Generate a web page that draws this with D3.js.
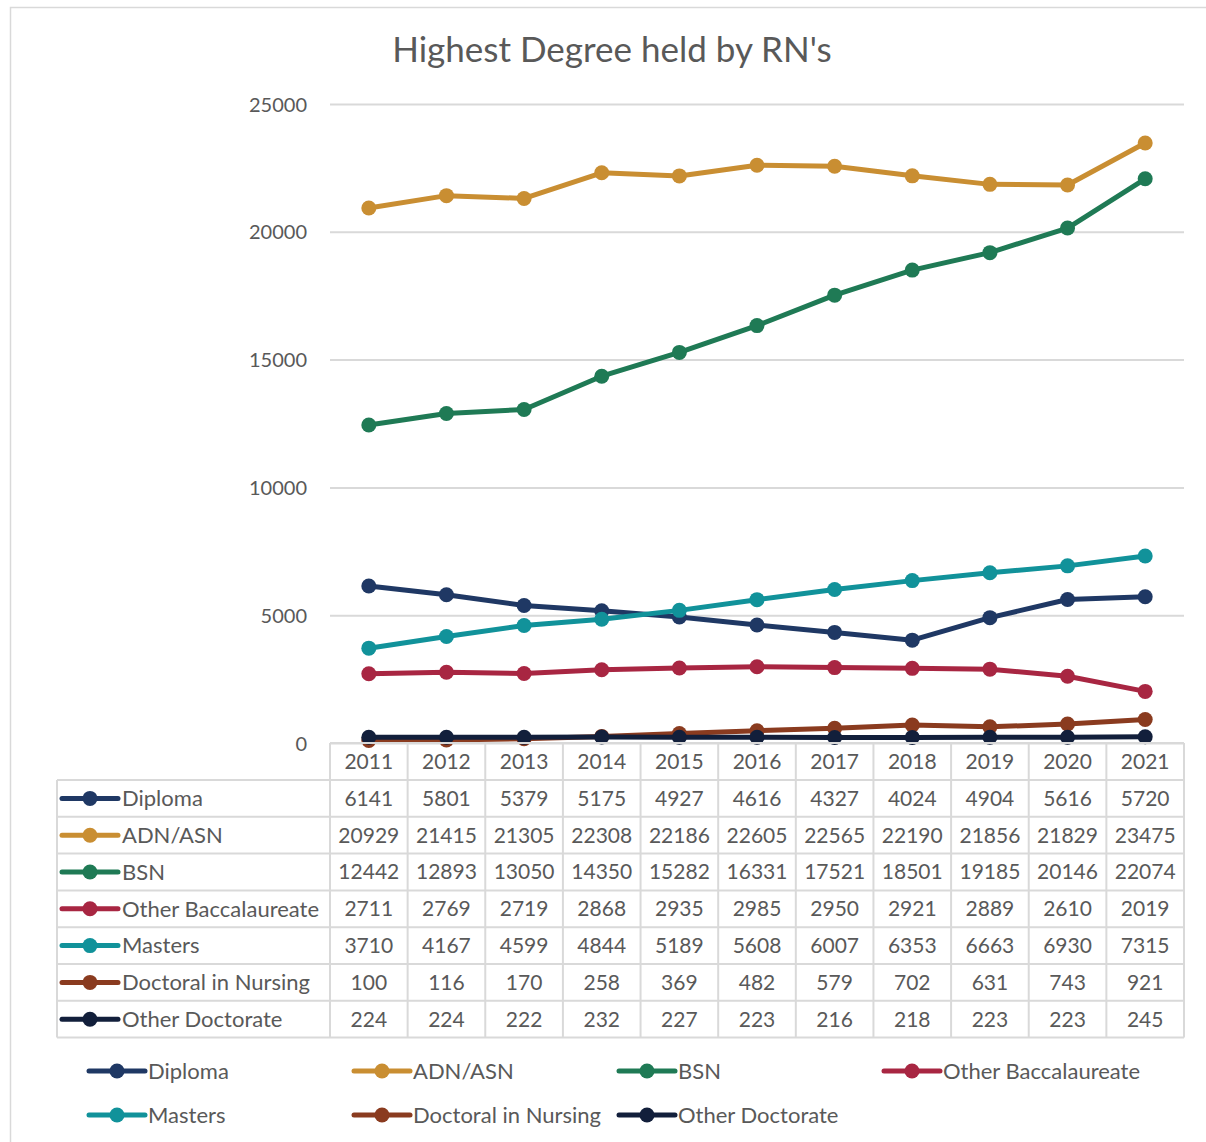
<!DOCTYPE html>
<html>
<head>
<meta charset="utf-8">
<script src="https://d3js.org/d3.v7.min.js"></script>
<style>
  body { margin: 0; background: #fff; }
  text { font-family: Lato, "Open Sans", sans-serif; fill: #595959; }
</style>
</head>
<body>
<div id="chart"></div>
<script>
var years = ["2011", "2012", "2013", "2014", "2015", "2016", "2017", "2018", "2019", "2020", "2021"];
var seriesNames = ["Diploma", "ADN/ASN", "BSN", "Other Baccalaureate", "Masters", "Doctoral in Nursing", "Other Doctorate"];
var diploma = [6141, 5801, 5379, 5175, 4927, 4616, 4327, 4024, 4904, 5616, 5720];
var adnAsn = [20929, 21415, 21305, 22308, 22186, 22605, 22565, 22190, 21856, 21829, 23475];
var bsn = [12442, 12893, 13050, 14350, 15282, 16331, 17521, 18501, 19185, 20146, 22074];
var otherBacc = [2711, 2769, 2719, 2868, 2935, 2985, 2950, 2921, 2889, 2610, 2019];
var masters = [3710, 4167, 4599, 4844, 5189, 5608, 6007, 6353, 6663, 6930, 7315];
var doctoralNursing = [100, 116, 170, 258, 369, 482, 579, 702, 631, 743, 921];
var otherDoctorate = [224, 224, 222, 232, 227, 223, 216, 218, 223, 223, 245];
var yTicks = [0, 5000, 10000, 15000, 20000, 25000];
var colors = ["#1f3864", "#c98e32", "#1f7a55", "#a82642", "#11929a", "#8a3b1f", "#121f3b"];

var allValues = [diploma, adnAsn, bsn, otherBacc, masters, doctoralNursing, otherDoctorate];
var series = seriesNames.map(function (name, i) {
    return { name: name, values: allValues[i], color: colors[i] };
});

var W = 1206, H = 1142;
var svg = d3.select("#chart").append("svg")
    .attr("width", W).attr("height", H);

// outer frame
svg.append("rect")
    .attr("x", 10.5).attr("y", 7.5)
    .attr("width", W).attr("height", H)
    .attr("fill", "none").attr("stroke", "#d9d9d9").attr("stroke-width", 1.5);

// title
svg.append("text")
    .attr("x", 612).attr("y", 62)
    .attr("text-anchor", "middle")
    .style("font-size", "35px")
    .text("Highest Degree held by RN's");

var x = d3.scaleBand().domain(years).range([330, 1184]).padding(0);
var y = d3.scaleLinear().domain([0, 25000]).range([743, 104]);

// gridlines + y labels
var yAxis = svg.append("g")
    .call(d3.axisLeft(y).tickValues(yTicks).tickSize(0).tickPadding(0).tickFormat(d3.format("d")));
yAxis.select(".domain").remove();
yAxis.selectAll(".tick text")
    .attr("x", -23)
    .attr("dy", "0.35em")
    .style("font-size", "20px")
    .style("font-family", "Lato, sans-serif")
    .attr("fill", "#595959");
yAxis.attr("transform", "translate(330,0)");
yAxis.selectAll(".tick").append("line")
    .attr("x1", 0).attr("x2", 1184 - 330)
    .attr("stroke", "#d9d9d9").attr("stroke-width", 2);

// lines
var line = d3.line()
    .x(function (d, i) { return x(years[i]) + x.bandwidth() / 2; })
    .y(function (d) { return y(d); });

series.forEach(function (s) {
    var g = svg.append("g");
    g.append("path")
        .datum(s.values)
        .attr("d", line)
        .attr("fill", "none")
        .attr("stroke", s.color)
        .attr("stroke-width", 5)
        .attr("stroke-linejoin", "round");
    g.selectAll("circle")
        .data(s.values)
        .enter().append("circle")
        .attr("cx", function (d, i) { return x(years[i]) + x.bandwidth() / 2; })
        .attr("cy", function (d) { return y(d); })
        .attr("r", 7.5)
        .attr("fill", s.color);
});

// data table
var rowH = 36.8;
var headTop = 743, bodyTop = 780, tableLeft = 57;
var bodyBottom = bodyTop + rowH * series.length;
var tbl = svg.append("g");
var gridStroke = "#d9d9d9";

// header cells
years.forEach(function (yr) {
    tbl.append("text")
        .attr("x", x(yr) + x.bandwidth() / 2)
        .attr("y", headTop + rowH / 2)
        .attr("dy", "0.35em")
        .attr("text-anchor", "middle")
        .style("font-size", "21px")
        .text(yr);
});

// horizontal lines
tbl.append("line").attr("x1", 330).attr("x2", 1184).attr("y1", headTop).attr("y2", headTop)
    .attr("stroke", gridStroke).attr("stroke-width", 2);
for (var r = 0; r <= series.length; r++) {
    tbl.append("line")
        .attr("x1", tableLeft).attr("x2", 1184)
        .attr("y1", bodyTop + r * rowH).attr("y2", bodyTop + r * rowH)
        .attr("stroke", gridStroke).attr("stroke-width", 2);
}
// vertical lines
tbl.append("line").attr("x1", tableLeft).attr("x2", tableLeft).attr("y1", bodyTop).attr("y2", bodyBottom)
    .attr("stroke", gridStroke).attr("stroke-width", 2);
years.forEach(function (yr) {
    tbl.append("line").attr("x1", x(yr)).attr("x2", x(yr)).attr("y1", headTop).attr("y2", bodyBottom)
        .attr("stroke", gridStroke).attr("stroke-width", 2);
});
tbl.append("line").attr("x1", 1184).attr("x2", 1184).attr("y1", headTop).attr("y2", bodyBottom)
    .attr("stroke", gridStroke).attr("stroke-width", 2);

function legendKey(g, x0, cy, color) {
    g.append("line")
        .attr("x1", x0).attr("x2", x0 + 56)
        .attr("y1", cy).attr("y2", cy)
        .attr("stroke", color).attr("stroke-width", 5)
        .attr("stroke-linecap", "round");
    g.append("circle").attr("cx", x0 + 28).attr("cy", cy).attr("r", 7.5).attr("fill", color);
}

series.forEach(function (s, i) {
    var cy = bodyTop + rowH * i + rowH / 2;
    legendKey(tbl, 62, cy, s.color);
    tbl.append("text")
        .attr("x", 122).attr("y", cy).attr("dy", "0.35em")
        .style("font-size", "22px")
        .text(s.name);
    s.values.forEach(function (v, j) {
        tbl.append("text")
            .attr("x", x(years[j]) + x.bandwidth() / 2)
            .attr("y", cy).attr("dy", "0.35em")
            .attr("text-anchor", "middle")
            .style("font-size", "21px")
            .text(v);
    });
});

// bottom legend
var legCols = [89, 354, 619, 884];
var legRows = [1071, 1115];
series.forEach(function (s, i) {
    var lx = legCols[i % 4], ly = legRows[Math.floor(i / 4)];
    var g = svg.append("g");
    legendKey(g, lx, ly, s.color);
    g.append("text")
        .attr("x", lx + 59).attr("y", ly).attr("dy", "0.35em")
        .style("font-size", "22px")
        .text(s.name);
});
</script>
</body>
</html>
